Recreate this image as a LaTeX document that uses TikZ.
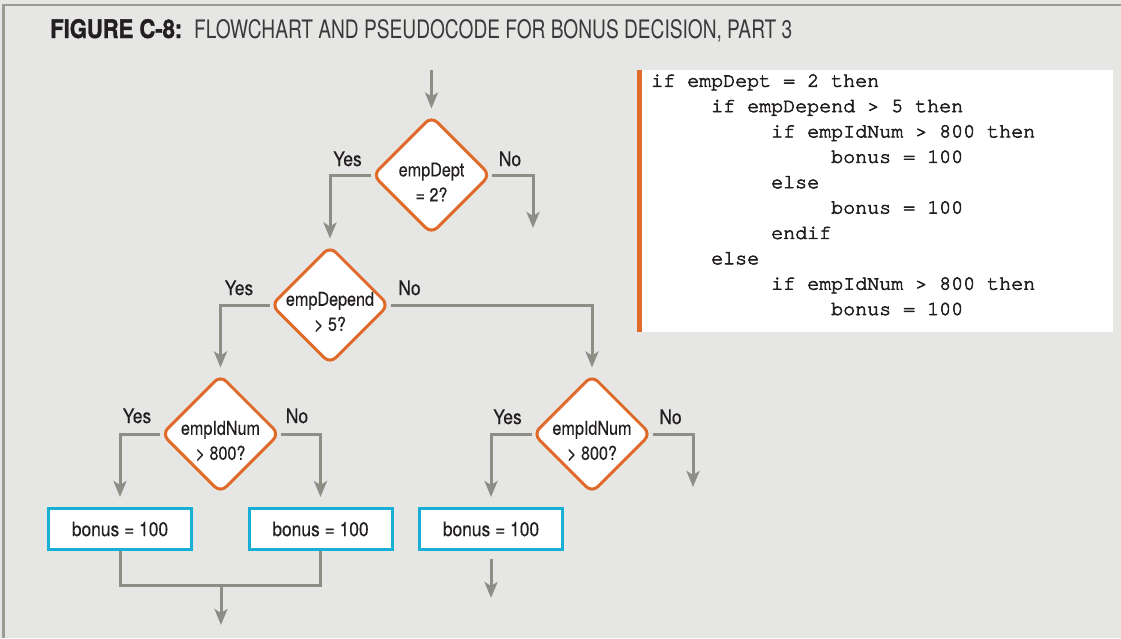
\documentclass[tikz,border=0pt]{standalone}
\usepackage{fontspec}
\usepackage{graphicx}
\usetikzlibrary{shapes.geometric,arrows.meta}
\newfontfamily\flowfont[FakeStretch=0.87,FakeBold=0.3]{TeX Gyre Heros}
\newfontfamily\qfont[FakeStretch=0.85,FakeBold=0.3]{TeX Gyre Heros}
\newfontfamily\headfont{TeX Gyre Heros}
\newfontfamily\headboldfont[FakeBold=1.5]{TeX Gyre Heros Bold}
\newfontfamily\codefont[FakeBold=3]{TeX Gyre Cursor}
\definecolor{bgc}{HTML}{E6E6E4}
\definecolor{framec}{HTML}{9C9C95}
\definecolor{linec}{HTML}{8E8E87}
\definecolor{orangec}{HTML}{E06A2A}
\definecolor{cyanc}{HTML}{17AFD6}
\definecolor{textc}{HTML}{231F20}
\definecolor{titlec}{HTML}{3A3A3A}
\pgfdeclarelayer{back}
\pgfsetlayers{back,main}
\begin{document}
\begin{tikzpicture}[x=1pt,y=-1pt,
  decision/.style={diamond, draw=orangec, line width=3pt, fill=white, rounded corners=8pt,
    minimum width=118pt, minimum height=118pt, inner sep=0pt},
  qtext/.style={font=\qfont\fontsize{19}{25}\selectfont, text=textc, align=center, inner sep=0pt, yshift=-7pt},
  action/.style={rectangle, draw=cyanc, line width=3pt, fill=white, minimum width=143pt,
    minimum height=41pt, font=\flowfont\fontsize{20}{24}\selectfont, text=textc, inner sep=0pt},
  lbl/.style={font=\flowfont\fontsize{20}{24}\selectfont, text=textc, inner sep=0pt, anchor=base},
  conn/.style={draw=linec, line width=3pt},
  arr/.style={conn, -{Stealth[length=16pt,width=13pt,inset=4pt]}},
  codeline/.style={font=\codefont\fontsize{20}{24}\selectfont, text=textc, anchor=base west, inner sep=0pt},
]
\useasboundingbox (0,0) rectangle (1121,638);
\begin{pgfonlayer}{back}
  \fill[bgc] (0,0) rectangle (1121,638);
  \draw[framec, line width=2.5pt] (3.5,638) -- (3.5,5) -- (1121,5);
\end{pgfonlayer}

% title
\node[anchor=base west, inner sep=0pt] (title) at (50,38)
  {\textcolor{textc}{\resizebox{132pt}{19pt}{\headboldfont FIGURE C-8:}}\hspace{12pt}\textcolor{titlec}{\resizebox{598pt}{19pt}{\headfont FLOWCHART AND PSEUDOCODE FOR BONUS DECISION, PART 3}}};

% decisions
\node[decision] (d1) at (431.5,175) {};
\node[qtext] (d1t) at (d1.center) {empDept\\= 2?};
\node[decision] (d2) at (330,305) {};
\node[qtext] (d2t) at (d2.center) {empDepend\\> 5?};
\node[decision] (d3) at (220.5,434) {};
\node[qtext] (d3t) at (d3.center) {empIdNum\\> 800?};
\node[decision] (d4) at (592,434) {};
\node[qtext] (d4t) at (d4.center) {empIdNum\\> 800?};

% actions
\node[action] (b1) at (120,529) {bonus = 100};
\node[action] (b2) at (320.5,529) {bonus = 100};
\node[action] (b3) at (491,529) {bonus = 100};

% labels
\node[lbl] (y1) at (347.5,166) {Yes};
\node[lbl] (n1) at (510,166) {No};
\node[lbl] (y2) at (239,295) {Yes};
\node[lbl] (n2) at (409.5,295) {No};
\node[lbl] (y3) at (137,423) {Yes};
\node[lbl] (n3) at (297,423) {No};
\node[lbl] (y4) at (507.5,424) {Yes};
\node[lbl] (n4) at (670.5,424) {No};

% free ends
\coordinate (s0) at (431.5,70);
\coordinate (e1) at (533,228);
\coordinate (e4) at (693,487);
\coordinate (m) at (221,585);
\coordinate (e0) at (221,625);
\coordinate (s3) at (491,559);
\coordinate (e3) at (491,598);

% pseudocode
\node[fill=white, anchor=north west, inner sep=0pt, minimum width=476pt, minimum height=262pt] (codebox) at (637,70) {};
\fill[orangec] (codebox.north west) rectangle ++(5,262);
\foreach \i/\lv/\t in {0/0/if empDept = 2 then,
                       1/1/if empDepend > 5 then,
                       2/2/if empIdNum > 800 then,
                       3/3/bonus = 100,
                       4/2/else,
                       5/3/bonus = 100,
                       6/2/endif,
                       7/1/else,
                       8/2/if empIdNum > 800 then,
                       9/3/bonus = 100}
  \node[codeline] (c\i) at (651+60*\lv, 86.7+25.37*\i) {\t};

% connectors
\begin{pgfonlayer}{back}
  \draw[arr, shorten >=6pt] (s0) -- (d1.north);
  \draw[arr, shorten >=6pt] (d1.west) -| (d2.north);
  \draw[arr] (d1.east) -| (e1);
  \draw[arr, shorten >=6pt] (d2.west) -| (d3.north);
  \draw[arr, shorten >=6pt] (d2.east) -| (d4.north);
  \draw[arr, shorten >=10pt] (d3.west) -| (b1.north);
  \draw[arr, shorten >=10pt] (d3.east) -| (b2.north);
  \draw[arr, shorten >=10pt] (d4.west) -| (b3.north);
  \draw[arr] (d4.east) -| (e4);
  \draw[conn] (b1.south) |- (m) -| (b2.south);
  \draw[arr] (m) -- (e0);
  \draw[arr] (s3) -- (e3);
\end{pgfonlayer}
\end{tikzpicture}
\end{document}
